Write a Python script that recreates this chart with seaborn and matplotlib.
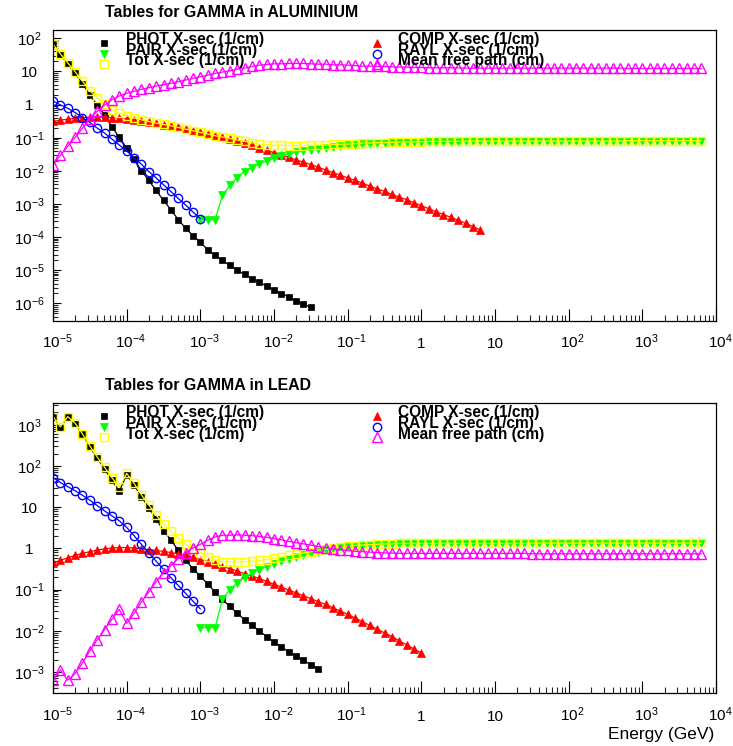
import numpy as np
import matplotlib
matplotlib.use("Agg")
import matplotlib.pyplot as plt
import matplotlib.ticker as mticker
import matplotlib.transforms as mtransforms
from matplotlib.lines import Line2D
import seaborn as sns

W, H = 733, 746

# Tabulation grid of the tables: 10 bins per decade, starting at 10 keV (GeV units)
energy_gev = np.logspace(-5.0, 3.8, 89)

# ---------------- Aluminium: log10 of X-sec (1/cm) and of mean free path (cm) ----------------
al_phot_first = 0
al_phot = [1.81, 1.51, 1.23, 0.94, 0.63, 0.29, -0.01, -0.31, -0.67, -0.99,
           -1.31, -1.65, -1.99, -2.29, -2.59, -2.89, -3.17, -3.47, -3.73, -3.95,
           -4.15, -4.38, -4.55, -4.70, -4.85, -5.00, -5.12, -5.25, -5.35, -5.48,
           -5.58, -5.70, -5.80, -5.92, -6.02, -6.12]

al_comp_first = 0
al_comp = [-0.51, -0.47, -0.44, -0.41, -0.39, -0.38, -0.38, -0.38, -0.39, -0.41,
           -0.43, -0.46, -0.49, -0.53, -0.57, -0.61, -0.65, -0.69, -0.74, -0.79,
           -0.84, -0.89, -0.94, -0.99, -1.04, -1.10, -1.16, -1.23, -1.31, -1.38,
           -1.45, -1.52, -1.59, -1.67, -1.74, -1.81, -1.89, -1.97, -2.05, -2.13,
           -2.21, -2.29, -2.37, -2.46, -2.54, -2.62, -2.71, -2.79, -2.87, -2.96,
           -3.05, -3.14, -3.23, -3.32, -3.40, -3.49, -3.58, -3.68, -3.78]

al_rayl_first = 0
al_rayl = [0.11, -0.01, -0.11, -0.24, -0.39, -0.54, -0.71, -0.86, -1.04, -1.22,
           -1.40, -1.60, -1.80, -2.02, -2.21, -2.42, -2.62, -2.83, -3.03, -3.24,
           -3.44]

al_pair_first = 20
al_pair = [-3.47, -3.47, -3.47, -2.74, -2.44, -2.20, -2.02, -1.90, -1.79, -1.70,
           -1.62, -1.55, -1.49, -1.44, -1.40, -1.36, -1.33, -1.30, -1.27, -1.25,
           -1.23, -1.21, -1.19, -1.18, -1.17, -1.16, -1.15, -1.14, -1.14, -1.13,
           -1.13, -1.12, -1.12, -1.12, -1.12, -1.12, -1.11, -1.11, -1.11, -1.11,
           -1.11, -1.11, -1.11, -1.11, -1.11, -1.11, -1.10, -1.10, -1.10, -1.10,
           -1.10, -1.10, -1.10, -1.10, -1.10, -1.10, -1.10, -1.10, -1.09, -1.09,
           -1.09, -1.09, -1.09, -1.09, -1.09, -1.09, -1.09, -1.09, -1.09]

al_tot_first = 0
al_tot = [1.82, 1.53, 1.26, 0.99, 0.71, 0.42, 0.20, 0.02, -0.15, -0.26,
          -0.34, -0.40, -0.46, -0.51, -0.56, -0.60, -0.64, -0.69, -0.74, -0.79,
          -0.84, -0.89, -0.94, -0.98, -1.02, -1.07, -1.10, -1.15, -1.19, -1.21,
          -1.23, -1.23, -1.24, -1.24, -1.24, -1.23, -1.22, -1.22, -1.20, -1.20,
          -1.19, -1.18, -1.16, -1.16, -1.15, -1.15, -1.14, -1.13, -1.13, -1.12,
          -1.12, -1.11, -1.11, -1.11, -1.11, -1.11, -1.10, -1.10, -1.10, -1.10,
          -1.10, -1.10, -1.10, -1.10, -1.10, -1.10, -1.10, -1.10, -1.10, -1.10,
          -1.10, -1.10, -1.10, -1.10, -1.10, -1.10, -1.10, -1.10, -1.09, -1.09,
          -1.09, -1.09, -1.09, -1.09, -1.09, -1.09, -1.09, -1.09, -1.09]

al_mfp_first = 0
al_mfp = [-1.82, -1.53, -1.26, -0.99, -0.71, -0.42, -0.20, -0.02, 0.15, 0.26,
          0.34, 0.40, 0.46, 0.51, 0.56, 0.60, 0.64, 0.69, 0.74, 0.79,
          0.84, 0.89, 0.94, 0.98, 1.02, 1.07, 1.10, 1.15, 1.19, 1.21,
          1.23, 1.23, 1.24, 1.24, 1.24, 1.23, 1.22, 1.22, 1.20, 1.20,
          1.19, 1.18, 1.16, 1.16, 1.15, 1.15, 1.14, 1.13, 1.13, 1.12,
          1.12, 1.11, 1.11, 1.11, 1.11, 1.11, 1.10, 1.10, 1.10, 1.10,
          1.10, 1.10, 1.10, 1.10, 1.10, 1.10, 1.10, 1.10, 1.10, 1.10,
          1.10, 1.10, 1.10, 1.10, 1.10, 1.10, 1.10, 1.10, 1.09, 1.09,
          1.09, 1.09, 1.09, 1.09, 1.09, 1.09, 1.09, 1.09, 1.09]

# ---------------- Lead: log10 of X-sec (1/cm) and of mean free path (cm) ----------------
pb_phot_first = 0
pb_phot = [3.19, 2.93, 3.19, 3.03, 2.77, 2.47, 2.19, 1.93, 1.65, 1.39,
           1.79, 1.54, 1.25, 0.99, 0.71, 0.43, 0.21, -0.05, -0.29, -0.49,
           -0.68, -0.86, -1.06, -1.24, -1.41, -1.57, -1.73, -1.87, -2.00, -2.14,
           -2.27, -2.39, -2.51, -2.62, -2.72, -2.82, -2.92]

pb_comp_first = 0
pb_comp = [-0.36, -0.29, -0.23, -0.17, -0.12, -0.08, -0.04, -0.01, 0.01, 0.02,
           0.02, 0.01, -0.01, -0.03, -0.05, -0.07, -0.10, -0.13, -0.17, -0.22,
           -0.27, -0.32, -0.38, -0.44, -0.49, -0.55, -0.61, -0.67, -0.73, -0.80,
           -0.87, -0.94, -1.01, -1.08, -1.15, -1.22, -1.29, -1.36, -1.44, -1.52,
           -1.60, -1.69, -1.78, -1.87, -1.96, -2.05, -2.14, -2.24, -2.34, -2.44,
           -2.54]

pb_rayl_first = 0
pb_rayl = [1.72, 1.60, 1.50, 1.40, 1.29, 1.17, 1.04, 0.91, 0.79, 0.67,
           0.51, 0.31, 0.10, -0.11, -0.31, -0.51, -0.71, -0.90, -1.09, -1.28,
           -1.47]

pb_pair_first = 20
pb_pair = [-1.92, -1.92, -1.92, -1.23, -1.00, -0.84, -0.71, -0.60, -0.52, -0.44,
           -0.37, -0.31, -0.25, -0.20, -0.16, -0.12, -0.08, -0.05, -0.02, 0.01,
           0.03, 0.05, 0.07, 0.08, 0.09, 0.10, 0.10, 0.11, 0.11, 0.12,
           0.12, 0.12, 0.12, 0.12, 0.12, 0.12, 0.12, 0.12, 0.12, 0.12,
           0.12, 0.12, 0.12, 0.12, 0.12, 0.13, 0.13, 0.13, 0.13, 0.13,
           0.13, 0.13, 0.13, 0.13, 0.13, 0.13, 0.13, 0.13, 0.13, 0.13,
           0.13, 0.13, 0.13, 0.13, 0.13, 0.13, 0.13, 0.13, 0.13]

pb_tot_first = 0
pb_tot = [3.20, 2.95, 3.20, 3.04, 2.78, 2.49, 2.22, 1.97, 1.72, 1.48,
          1.82, 1.58, 1.30, 1.06, 0.81, 0.59, 0.42, 0.25, 0.10, -0.01,
          -0.10, -0.20, -0.28, -0.32, -0.32, -0.33, -0.32, -0.31, -0.29, -0.27,
          -0.24, -0.21, -0.17, -0.14, -0.11, -0.08, -0.04, -0.02, 0.01, 0.03,
          0.05, 0.07, 0.08, 0.09, 0.10, 0.11, 0.11, 0.12, 0.12, 0.12,
          0.12, 0.12, 0.12, 0.12, 0.12, 0.12, 0.12, 0.12, 0.12, 0.12,
          0.12, 0.12, 0.12, 0.12, 0.12, 0.13, 0.13, 0.13, 0.13, 0.13,
          0.13, 0.13, 0.13, 0.13, 0.13, 0.13, 0.13, 0.13, 0.13, 0.13,
          0.13, 0.13, 0.13, 0.13, 0.13, 0.13, 0.13, 0.13, 0.13]

pb_mfp_first = 0
pb_mfp = [-3.20, -2.95, -3.20, -3.04, -2.78, -2.49, -2.22, -1.97, -1.72, -1.48,
          -1.82, -1.58, -1.30, -1.06, -0.81, -0.59, -0.42, -0.25, -0.10, 0.01,
          0.10, 0.20, 0.28, 0.32, 0.32, 0.33, 0.32, 0.31, 0.29, 0.27,
          0.24, 0.21, 0.17, 0.14, 0.11, 0.08, 0.04, 0.02, -0.01, -0.03,
          -0.05, -0.07, -0.08, -0.09, -0.10, -0.11, -0.11, -0.12, -0.12, -0.12,
          -0.12, -0.12, -0.12, -0.12, -0.12, -0.12, -0.12, -0.12, -0.12, -0.12,
          -0.12, -0.12, -0.12, -0.12, -0.12, -0.13, -0.13, -0.13, -0.13, -0.13,
          -0.13, -0.13, -0.13, -0.13, -0.13, -0.13, -0.13, -0.13, -0.13, -0.13,
          -0.13, -0.13, -0.13, -0.13, -0.13, -0.13, -0.13, -0.13, -0.13]

# marker styles of the six quantities
STYLE = {
    "PHOT": dict(color="#000000", marker="s", ms=5.0, fill=True),
    "COMP": dict(color="#ff0000", marker="^", ms=5.6, fill=True),
    "PAIR": dict(color="#00ff00", marker="v", ms=5.6, fill=True),
    "RAYL": dict(color="#0000ff", marker="o", ms=6.0, fill=False),
    "Tot":  dict(color="#ffff00", marker="s", ms=6.4, fill=False),
    "MFP":  dict(color="#ff00ff", marker="^", ms=6.6, fill=False),
}
LEGEND_COL1 = [("PHOT", "PHOT X-sec (1/cm)"), ("PAIR", "PAIR X-sec (1/cm)"), ("Tot", "Tot X-sec (1/cm)")]
LEGEND_COL2 = [("COMP", "COMP X-sec (1/cm)"), ("RAYL", "RAYL X-sec (1/cm)"), ("MFP", "Mean free path (cm)")]

x_decades = list(range(-5, 5))

panels = [
    dict(title="Tables for GAMMA in ALUMINIUM", top=30.0, bottom=320.7,
         ylim=(10 ** -6.52, 10 ** 2.25), y_decades=list(range(-6, 3)),
         series=[("PHOT", al_phot_first, al_phot), ("COMP", al_comp_first, al_comp),
                 ("PAIR", al_pair_first, al_pair), ("RAYL", al_rayl_first, al_rayl),
                 ("Tot", al_tot_first, al_tot), ("MFP", al_mfp_first, al_mfp)]),
    dict(title="Tables for GAMMA in LEAD", top=403.0, bottom=693.0,
         ylim=(10 ** -3.51, 10 ** 3.53), y_decades=list(range(-3, 4)),
         series=[("PHOT", pb_phot_first, pb_phot), ("COMP", pb_comp_first, pb_comp),
                 ("PAIR", pb_pair_first, pb_pair), ("RAYL", pb_rayl_first, pb_rayl),
                 ("Tot", pb_tot_first, pb_tot), ("MFP", pb_mfp_first, pb_mfp)]),
]

sns.set_theme(style="white")
plt.rcParams["font.family"] = ["Liberation Sans", "DejaVu Sans"]
plt.rcParams["mathtext.fontset"] = "custom"
plt.rcParams["mathtext.rm"] = "Liberation Sans"
plt.rcParams["axes.unicode_minus"] = True

fig = plt.figure(figsize=(W / 100, H / 100), dpi=100)
fig.patch.set_facecolor("white")


def fx(x):
    return x / W


def fy(y):
    return 1.0 - y / H


def decade_label(val, pos):
    n = int(round(np.log10(val)))
    if n == 0:
        return "1"
    if n == 1:
        return "10"
    return r"$\mathregular{10^{%d}}$" % n


def minor_positions(lo, hi):
    return [m * 10.0 ** d for d in range(lo, hi) for m in range(2, 10)]


def marker_kw(name):
    st = STYLE[name]
    return dict(color=st["color"], marker=st["marker"], markersize=st["ms"],
                markerfacecolor=st["color"] if st["fill"] else "none",
                markeredgecolor=st["color"], markeredgewidth=1.0 if not st["fill"] else 0.5)


shift_right = mtransforms.ScaledTranslation(4 / 100, 0, fig.dpi_scale_trans)

for p in panels:
    ax = fig.add_axes([fx(53), fy(p["bottom"]), fx(716) - fx(53), (p["bottom"] - p["top"]) / H])
    ax.set_facecolor("white")
    ax.set_xscale("log")
    ax.set_yscale("log")

    for name, first, vals in p["series"]:
        e = energy_gev[first:first + len(vals)]
        y = 10.0 ** np.asarray(vals)
        sns.lineplot(x=e, y=y, ax=ax, estimator=None, errorbar=None, sort=False,
                     linewidth=0.9, legend=False, **marker_kw(name))

    ax.set_xlim(1e-5, 1e4)
    ax.set_ylim(*p["ylim"])
    ax.set_xlabel("")
    ax.set_ylabel("")

    ax.xaxis.set_major_locator(mticker.FixedLocator([10.0 ** d for d in x_decades]))
    ax.xaxis.set_minor_locator(mticker.FixedLocator(minor_positions(-5, 4)))
    yd = p["y_decades"]
    ax.yaxis.set_major_locator(mticker.FixedLocator([10.0 ** d for d in yd]))
    ax.yaxis.set_minor_locator(mticker.FixedLocator(
        [v for v in minor_positions(yd[0] - 1, yd[-1] + 1) if p["ylim"][0] < v < p["ylim"][1]]))
    for axis in (ax.xaxis, ax.yaxis):
        axis.set_major_formatter(mticker.FuncFormatter(decade_label))
        axis.set_minor_formatter(mticker.NullFormatter())

    ax.tick_params(axis="x", which="major", direction="in", length=8.6, width=0.8,
                   bottom=True, top=False, labelsize=11, pad=20.0, colors="black")
    ax.tick_params(axis="x", which="minor", direction="in", length=4.6, width=0.8,
                   bottom=True, top=False)
    ax.tick_params(axis="y", which="major", direction="in", length=6.0, width=0.8,
                   left=True, right=False, labelsize=11, pad=17.3, colors="black")
    ax.tick_params(axis="y", which="minor", direction="in", length=3.4, width=0.8,
                   left=True, right=False)
    for sp in ax.spines.values():
        sp.set_color("black")
        sp.set_linewidth(0.9)

    for tick, d in zip(ax.xaxis.get_major_ticks(), x_decades):
        tick.label1.set_verticalalignment("baseline")
        if d not in (0, 1):
            tick.label1.set_transform(tick.label1.get_transform() + shift_right)
    for lab in ax.get_yticklabels():
        lab.set_horizontalalignment("center")
        lab.set_verticalalignment("center_baseline")

    # panel title
    fig.text(fx(105), fy(p["top"] - 12.7), p["title"], fontsize=11.4, fontweight="bold",
             ha="left", va="baseline", color="black")

    # legend: two columns of marker + bold label
    base_offsets = [14.2, 24.7, 35.5]
    mark_offsets = [13.3, 23.5, 34.0]
    for col, (mx, tx) in zip((LEGEND_COL1, LEGEND_COL2), ((104, 126), (377, 398))):
        for (name, text), bo, mo in zip(col, base_offsets, mark_offsets):
            fig.add_artist(Line2D([fx(mx)], [fy(p["top"] + mo)], linestyle="none",
                                  transform=fig.transFigure, **marker_kw(name)))
            fig.text(fx(tx), fy(p["top"] + bo), text, fontsize=11.2, fontweight="bold",
                     ha="left", va="baseline", color="black")

fig.text(fx(714), fy(739), "Energy (GeV)", fontsize=12.5, ha="right", va="baseline", color="black")

fig.savefig("out.png", dpi=100, facecolor="white")
